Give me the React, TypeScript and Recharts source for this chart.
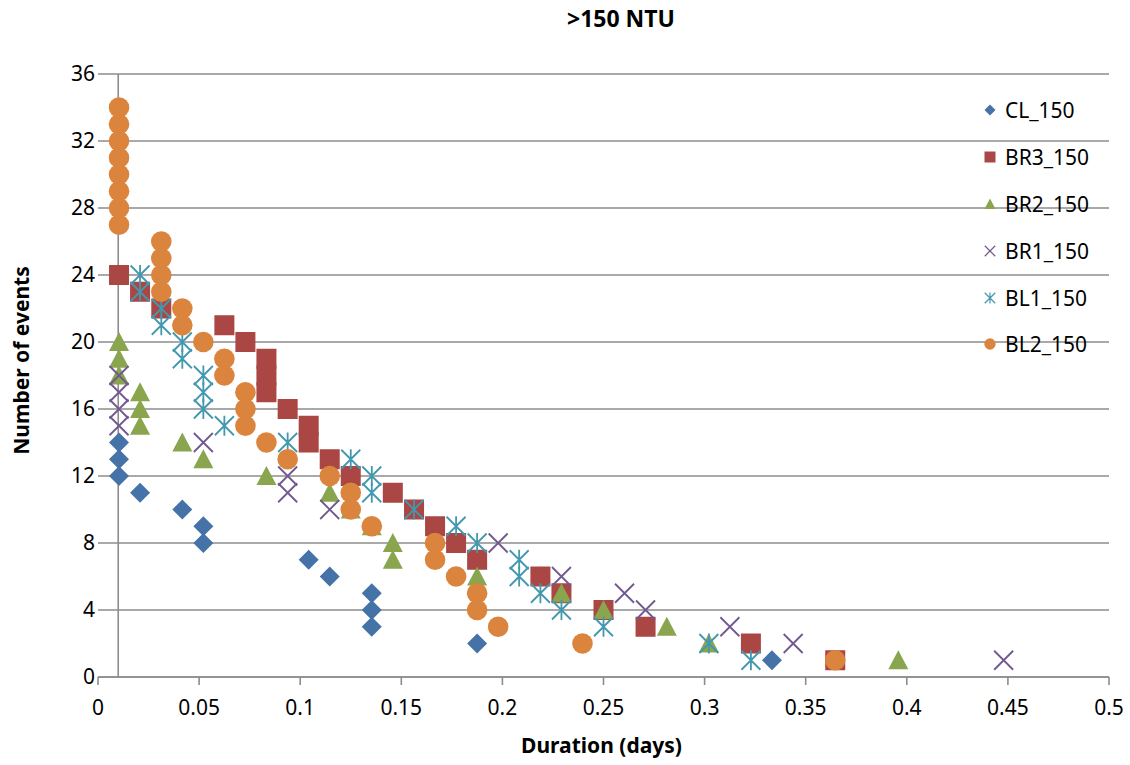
import {
  ScatterChart,
  Scatter,
  XAxis,
  YAxis,
  CartesianGrid,
  ReferenceLine,
  Legend,
  Label,
} from 'recharts';

const FONT = '"Noto Sans", "Liberation Sans", sans-serif';
const GRID = '#8c8c8c';

const xTicks = [0, 0.05, 0.1, 0.15, 0.2, 0.25, 0.3, 0.35, 0.4, 0.45, 0.5];
const yTicks = [0, 4, 8, 12, 16, 20, 24, 28, 32, 36];

// [duration (days), number of events]
const cl150: [number, number][] = [
  [0.0104, 14], [0.0104, 13], [0.0104, 12], [0.0208, 11], [0.0417, 10],
  [0.0521, 9], [0.0521, 8], [0.1042, 7], [0.1146, 6], [0.1354, 5],
  [0.1354, 4], [0.1354, 3], [0.1875, 2], [0.3333, 1],
];

const br3150: [number, number][] = [
  [0.0104, 24], [0.0208, 23], [0.0313, 22], [0.0625, 21], [0.0729, 20],
  [0.0833, 19], [0.0833, 18], [0.0833, 17], [0.0938, 16], [0.1042, 15],
  [0.1042, 14], [0.1146, 13], [0.125, 12], [0.1458, 11], [0.1563, 10],
  [0.1667, 9], [0.1771, 8], [0.1875, 7], [0.2188, 6], [0.2292, 5],
  [0.25, 4], [0.2708, 3], [0.3229, 2], [0.3646, 1],
];

const br2150: [number, number][] = [
  [0.0104, 20], [0.0104, 19], [0.0104, 18], [0.0208, 17], [0.0208, 16],
  [0.0208, 15], [0.0417, 14], [0.0521, 13], [0.0833, 12], [0.1146, 11],
  [0.125, 10], [0.1354, 9], [0.1458, 8], [0.1458, 7], [0.1875, 6],
  [0.2292, 5], [0.25, 4], [0.2813, 3], [0.3021, 2], [0.3958, 1],
];

const br1150: [number, number][] = [
  [0.0104, 18], [0.0104, 17], [0.0104, 16], [0.0104, 15], [0.0521, 14],
  [0.0938, 12], [0.0938, 11], [0.1146, 10], [0.1979, 8], [0.2292, 6],
  [0.2604, 5], [0.2708, 4], [0.3125, 3], [0.3438, 2], [0.4479, 1],
];

const bl1150: [number, number][] = [
  [0.0208, 24], [0.0208, 23], [0.0313, 22], [0.0313, 21], [0.0417, 20],
  [0.0417, 19], [0.0521, 18], [0.0521, 17], [0.0521, 16], [0.0625, 15],
  [0.0938, 14], [0.125, 13], [0.1354, 12], [0.1354, 11], [0.1563, 10],
  [0.1771, 9], [0.1875, 8], [0.2083, 7], [0.2083, 6], [0.2188, 5],
  [0.2292, 4], [0.25, 3], [0.3021, 2], [0.3229, 1],
];

const bl2150: [number, number][] = [
  [0.0104, 34], [0.0104, 33], [0.0104, 32], [0.0104, 31], [0.0104, 30],
  [0.0104, 29], [0.0104, 28], [0.0104, 27], [0.0313, 26], [0.0313, 25],
  [0.0313, 24], [0.0313, 23], [0.0417, 22], [0.0417, 21], [0.0521, 20],
  [0.0625, 19], [0.0625, 18], [0.0729, 17], [0.0729, 16], [0.0729, 15],
  [0.0833, 14], [0.0938, 13], [0.1146, 12], [0.125, 11], [0.125, 10],
  [0.1354, 9], [0.1667, 8], [0.1667, 7], [0.1771, 6], [0.1875, 5],
  [0.1875, 4], [0.1979, 3], [0.2396, 2], [0.3646, 1],
];

type Kind = 'diamond' | 'square' | 'triangle' | 'x' | 'star' | 'circle';

const series: { name: string; data: [number, number][]; color: string; kind: Kind }[] = [
  { name: 'CL_150', data: cl150, color: '#4572A7', kind: 'diamond' },
  { name: 'BR3_150', data: br3150, color: '#AA4643', kind: 'square' },
  { name: 'BR2_150', data: br2150, color: '#89A54E', kind: 'triangle' },
  { name: 'BR1_150', data: br1150, color: '#71588F', kind: 'x' },
  { name: 'BL1_150', data: bl1150, color: '#4198AF', kind: 'star' },
  { name: 'BL2_150', data: bl2150, color: '#DB843D', kind: 'circle' },
];

function Marker({ kind, cx, cy, r, color }: { kind: Kind; cx: number; cy: number; r: number; color: string }) {
  const sw = Math.max(1.2, r * 0.18);
  const d = r * 0.95;
  switch (kind) {
    case 'diamond':
      return <path d={`M${cx},${cy - r}L${cx + r},${cy}L${cx},${cy + r}L${cx - r},${cy}Z`} fill={color} />;
    case 'square':
      return <rect x={cx - r} y={cy - r} width={2 * r} height={2 * r} fill={color} />;
    case 'triangle':
      return <path d={`M${cx},${cy - r}L${cx + r},${cy + 0.9 * r}L${cx - r},${cy + 0.9 * r}Z`} fill={color} />;
    case 'x':
      return (
        <path
          d={`M${cx - d},${cy - d}L${cx + d},${cy + d}M${cx - d},${cy + d}L${cx + d},${cy - d}`}
          stroke={color}
          strokeWidth={sw}
          fill="none"
        />
      );
    case 'star':
      return (
        <path
          d={`M${cx - d},${cy - d}L${cx + d},${cy + d}M${cx - d},${cy + d}L${cx + d},${cy - d}M${cx},${cy - r}L${cx},${cy + r}`}
          stroke={color}
          strokeWidth={sw}
          fill="none"
        />
      );
    default:
      return <circle cx={cx} cy={cy} r={r * 1.03} fill={color} />;
  }
}

function LegendBox() {
  return (
    <div style={{ fontFamily: FONT, fontSize: 21, color: '#000' }}>
      {series.map((s) => (
        <div key={s.name} style={{ display: 'flex', alignItems: 'center', height: 46.8 }}>
          <svg width={20} height={20}>
            <Marker kind={s.kind} cx={10} cy={10} r={5.5} color={s.color} />
          </svg>
          <span style={{ marginLeft: 5 }}>{s.name}</span>
        </div>
      ))}
    </div>
  );
}

function YTitle(props: any) {
  const vb = props.viewBox || { x: 0, y: 74, height: 603 };
  const cx = vb.x + 21;
  const cy = vb.y + vb.height / 2 - 15;
  return (
    <text
      x={cx}
      y={cy}
      transform={`rotate(-90 ${cx} ${cy})`}
      textAnchor="middle"
      dominantBaseline="central"
      fontFamily={FONT}
      fontSize={21}
      fontWeight="bold"
      fill="#000"
    >
      Number of events
    </text>
  );
}

function XTitle(props: any) {
  const vb = props.viewBox || { x: 98, y: 677, width: 1011, height: 88 };
  return (
    <text
      x={vb.x + vb.width / 2 - 2}
      y={vb.y + 76}
      textAnchor="middle"
      fontFamily={FONT}
      fontSize={21}
      fontWeight="bold"
      fill="#000"
    >
      Duration (days)
    </text>
  );
}

export default function App() {
  const tickStyle = { fontSize: 21, fontFamily: FONT, fill: '#000' };
  return (
    <div style={{ position: 'absolute', left: 0, top: 0, width: 1130, height: 765, background: '#fff' }}>
      <div
        style={{
          position: 'absolute',
          left: 521,
          top: 3,
          width: 200,
          textAlign: 'center',
          fontFamily: FONT,
          fontSize: 23,
          lineHeight: '30px',
          fontWeight: 'bold',
          color: '#000',
        }}
      >
        &gt;150 NTU
      </div>
      <ScatterChart width={1130} height={765} margin={{ top: 74, right: 21, bottom: 0, left: 0 }}>
        <CartesianGrid vertical={false} stroke={GRID} strokeWidth={1.6} />
        <XAxis
          type="number"
          dataKey="x"
          domain={[0, 0.5]}
          ticks={xTicks}
          interval={0}
          height={88}
          tick={tickStyle}
          tickSize={8}
          tickMargin={15}
          axisLine={{ stroke: GRID, strokeWidth: 1.6 }}
          tickLine={{ stroke: GRID, strokeWidth: 1.6 }}
        >
          <Label content={<XTitle />} />
        </XAxis>
        <YAxis
          type="number"
          dataKey="y"
          domain={[0, 36]}
          ticks={yTicks}
          interval={0}
          width={98}
          tick={tickStyle}
          tickSize={3}
          tickMargin={0}
          axisLine={false}
          tickLine={false}
        >
          <Label content={<YTitle />} />
        </YAxis>
        <ReferenceLine x={0.01} stroke={GRID} strokeWidth={1.6} />
        {series.map((s) => (
          <Scatter
            key={s.name}
            name={s.name}
            data={s.data.map(([x, y]) => ({ x, y }))}
            fill={s.color}
            isAnimationActive={false}
            shape={(p: any) => <Marker kind={s.kind} cx={p.cx} cy={p.cy} r={10} color={s.color} />}
          />
        ))}
        <Legend
          layout="vertical"
          align="center"
          verticalAlign="middle"
          wrapperStyle={{ left: 980, top: 87, width: 150 }}
          content={<LegendBox />}
        />
      </ScatterChart>
    </div>
  );
}
